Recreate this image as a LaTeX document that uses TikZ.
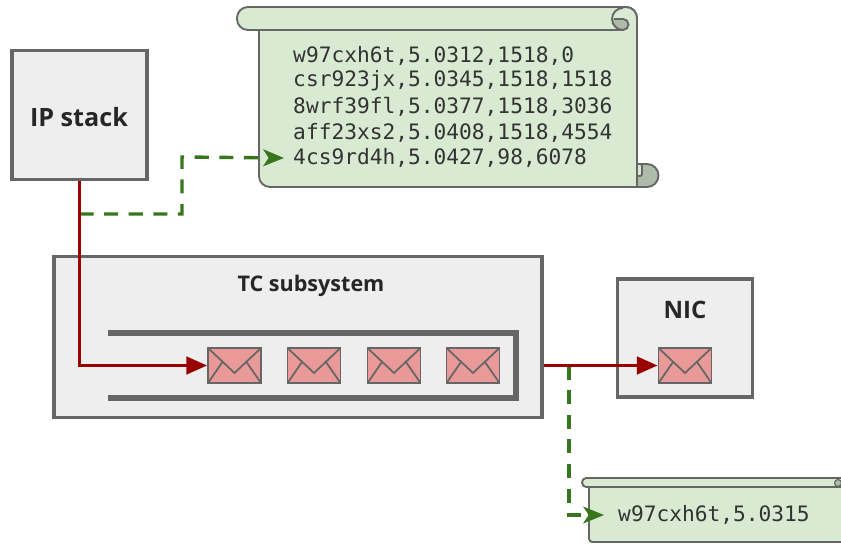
\documentclass[tikz,border=0pt]{standalone}
\usepackage{fontspec}
\setmainfont{Open Sans}
\newfontfamily\logfont{DejaVu Sans Mono}
\usetikzlibrary{arrows.meta}

\definecolor{boxfill}{HTML}{EEEEEE}
\definecolor{boxline}{HTML}{666666}
\definecolor{mailfill}{HTML}{EA9999}
\definecolor{scrollfill}{HTML}{D9EAD3}
\definecolor{scrollfold}{HTML}{AEBBA9}
\definecolor{pathred}{HTML}{990000}
\definecolor{tapgreen}{HTML}{38761D}

\tikzset{
  block/.style={draw=boxline,fill=boxfill,line width=2.6pt,inner sep=0pt},
  mail/.style={draw=boxline,fill=mailfill,line width=1.5pt,inner sep=0pt,
    minimum width=1.59cm,minimum height=1.05cm,
    path picture={
      \draw[boxline,line width=1.5pt] (path picture bounding box.north west)
        -- ++(26.5,25) -- (path picture bounding box.north east);
      \draw[boxline,line width=1.5pt] (path picture bounding box.south west) -- ++(14.5,-21);
      \draw[boxline,line width=1.5pt] (path picture bounding box.south east) -- ++(-14.5,-21);
    }},
  title/.style={font=\bfseries\fontsize{21.5}{24}\selectfont,text=black!85},
  logline/.style={font=\logfont\fontsize{18.1}{20}\selectfont,text=black!80,inner ysep=0pt,anchor=west},
  paper/.style={draw=boxline,fill=scrollfill,line width=1.6pt},
  fold/.style={draw=boxline,fill=scrollfold,line width=1.6pt},
  packetpath/.style={draw=pathred,line width=2.8pt,-{Triangle[length=0.62cm,width=0.52cm]}},
  tappath/.style={draw=tapgreen,line width=2.9pt,dash pattern=on 12pt off 9pt,
    -{Stealth[length=0.62cm,width=0.5cm,inset=0.16cm]}}
}

\begin{document}
\begin{tikzpicture}[x=0.03cm,y=-0.03cm]

  \useasboundingbox (0,0) rectangle (841,544);

  % big log
  \draw[fold] (637,164) -- (647,164) arc[start angle=-90,end angle=90,radius=11.5] -- (637,187);
  \draw[paper,rounded corners=0.06cm] (637,164) -- (642,164) -- (642,176) -- (637,176);
  \draw[paper] (259,19) [rounded corners=0.33cm] -- (259,187) [sharp corners] -- (637,187) [rounded corners=0.33cm] -- (637,7) -- (500,7) [sharp corners] -- (500,19) -- cycle;
  \draw[paper,rounded corners=0.33cm] (300,30) -- (237,30) -- (237,7) -- (637,7) -- (637,30);
  \fill[scrollfill] (250,9) rectangle (630,29);
  \draw[boxline,line width=1.6pt] (248,30) -- (623,30);
  \fill[scrollfold] (613,19) -- (623,19) arc[start angle=-90,end angle=90,radius=5.5] arc[start angle=90,end angle=180,radius=11] -- cycle;
  \draw[boxline,line width=1.6pt] (623,8) arc[start angle=270,end angle=90,radius=11]
    arc[start angle=90,end angle=-90,radius=5.5] -- (614,19);

  % small log
  \begin{scope}
    \clip (0,0) rectangle (841,544);
    \draw[paper,rounded corners=0.1cm] (589,482) -- (589,542) -- (860,542) -- (860,482) -- cycle;
    \draw[paper,rounded corners=0.13cm] (582,478) rectangle (860,487);
    \draw[fold,line width=1pt] (838,483) circle[radius=3.5];
  \end{scope}

  \foreach \name/\ypos/\logtext in {
      log1/56/{w97cxh6t,5.0312,1518,0},
      log2/81/{csr923jx,5.0345,1518,1518},
      log3/107/{8wrf39fl,5.0377,1518,3036},
      log4/132.5/{aff23xs2,5.0408,1518,4554},
      log5/158/{4cs9rd4h,5.0427,98,6078}} {
    \node[logline,inner xsep=0.27cm] (\name) at (284,\ypos) {\logtext};
  }
  \node[logline,inner xsep=0.42cm] (sent) at (604,515) {w97cxh6t,5.0315};

  \node[block,minimum width=4.05cm,minimum height=3.87cm] (ipstack) at (79.5,115) {};
  \node[block,minimum width=14.64cm,minimum height=4.83cm] (tcbox) at (298,337) {};
  \node[block,minimum width=4.05cm,minimum height=3.54cm] (nicbox) at (685,338) {};

  \node[title] (iplabel) at (79,117) {IP stack};
  \node[title,font=\bfseries\fontsize{18.4}{20}\selectfont] (tclabel) at (311,286) {TC subsystem};
  \node[title,font=\bfseries\fontsize{20.5}{24}\selectfont] (niclabel) at (685,310) {NIC};

  \draw[boxline,line width=4.4pt,line join=miter] (108,333) -- (516,333) -- (516,398) -- (108,398);

  \node[mail] (mail1) at (234.5,365.5) {};
  \node[mail] (mail2) at (314,365.5) {};
  \node[mail] (mail3) at (394,365.5) {};
  \node[mail] (mail4) at (473,365.5) {};
  \node[mail] (nicmail) at (685,365.5) {};

  \coordinate (tapin) at (ipstack.south |- 0,214);
  \coordinate (tapout) at (569,365.5);

  \draw[tappath] (tapin) -- (182,214) -- (182,157) -- (log5.west);
  \draw[tappath] (tapout) |- (sent.west);

  \draw[packetpath] (ipstack.south) |- (mail1.west);
  \draw[packetpath] (tcbox.east |- nicmail.west) -- (nicmail.west);

\end{tikzpicture}
\end{document}
